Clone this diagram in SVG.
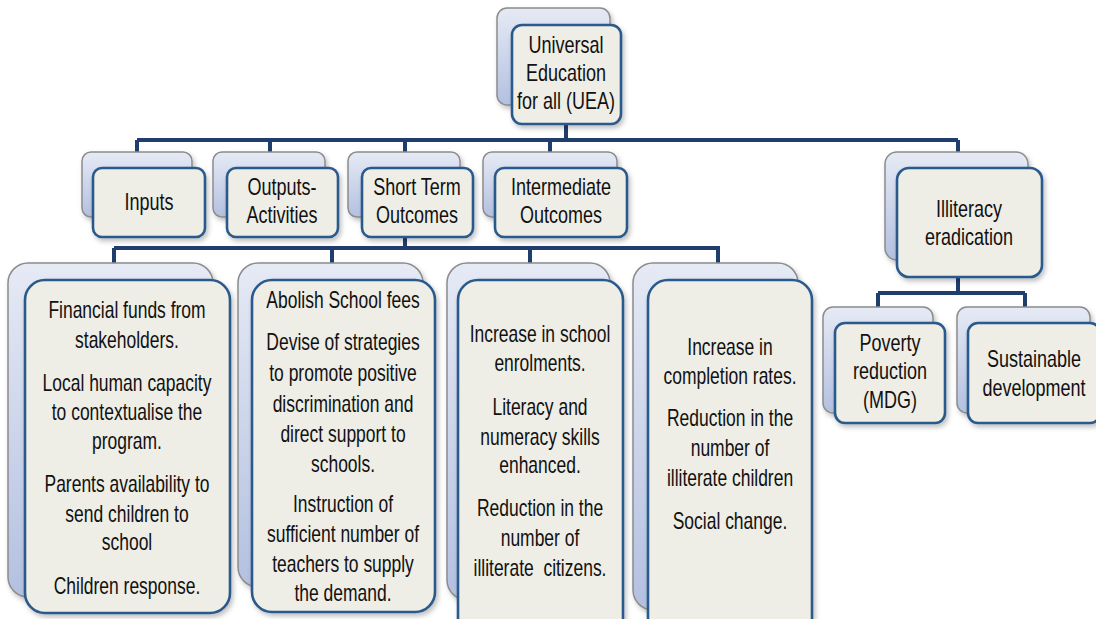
<svg xmlns="http://www.w3.org/2000/svg" width="1096" height="619" viewBox="0 0 1096 619">
<defs>
<linearGradient id="bg" x1="0" y1="0" x2="0" y2="1">
<stop offset="0" stop-color="#e6eaf5"/>
<stop offset="1" stop-color="#b3c0e0"/>
</linearGradient>
<filter id="sh" x="-10%" y="-10%" width="130%" height="130%">
<feDropShadow dx="2" dy="3" stdDeviation="2.5" flood-color="#000" flood-opacity="0.25"/>
</filter>
<style>
.back{fill:url(#bg);stroke:#8c8c8c;stroke-width:1.5;filter:url(#sh)}
.front{fill:#eeede6;stroke:#2a5a8c;stroke-width:2.6;filter:url(#sh)}
.con{fill:none;stroke:#1f3e6e;stroke-width:4}
text{font-family:"Liberation Sans",Arial,sans-serif;fill:#111;text-anchor:middle}
.h{font-size:24px}
.c{font-size:23px}
.pre{white-space:pre}
</style>
</defs>
<g id="connectors">
<path class="con" d="M566 124V140M137 140H958M137 140V152M270 140V152M405 140V152M550 140V152M958 140V152"/>
<path class="con" d="M405 237V248M114 248H720M114 248V263M332 248V263M530 248V263M718 248V263"/>
<path class="con" d="M958 277V293M878 293H1025M878 293V307M1025 293V307"/>
</g>
<g id="uea">
<rect class="back" x="497" y="8" width="113" height="97" rx="10"/>
<rect class="front" x="512" y="25" width="109" height="99" rx="10"/>
<text class="h" transform="translate(566 0) scale(0.75 1)"><tspan x="0" y="53">Universal</tspan><tspan x="0" y="81">Education</tspan><tspan x="0" y="109">for all (UEA)</tspan></text>
</g>
<g id="inputs">
<rect class="back" x="82" y="152" width="110" height="65" rx="9"/>
<rect class="front" x="93" y="168" width="112" height="69" rx="9"/>
<text class="h" transform="translate(149 0) scale(0.75 1)"><tspan x="0" y="210">Inputs</tspan></text>
</g>
<g id="outputs">
<rect class="back" x="213" y="152" width="112" height="65" rx="9"/>
<rect class="front" x="227" y="168" width="111" height="69" rx="9"/>
<text class="h" transform="translate(282 0) scale(0.75 1)"><tspan x="0" y="195">Outputs-</tspan><tspan x="0" y="223">Activities</tspan></text>
</g>
<g id="short-term">
<rect class="back" x="348" y="152" width="112" height="65" rx="9"/>
<rect class="front" x="362" y="168" width="111" height="69" rx="9"/>
<text class="h" transform="translate(417 0) scale(0.75 1)"><tspan x="0" y="195">Short Term</tspan><tspan x="0" y="223">Outcomes</tspan></text>
</g>
<g id="intermediate">
<rect class="back" x="483" y="152" width="134" height="65" rx="9"/>
<rect class="front" x="495" y="168" width="132" height="69" rx="9"/>
<text class="h" transform="translate(561 0) scale(0.75 1)"><tspan x="0" y="195">Intermediate</tspan><tspan x="0" y="223">Outcomes</tspan></text>
</g>
<g id="illiteracy">
<rect class="back" x="885" y="152" width="143" height="108" rx="12"/>
<rect class="front" x="897" y="168" width="145" height="109" rx="12"/>
<text class="h" transform="translate(969 0) scale(0.75 1)"><tspan x="0" y="217">Illiteracy</tspan><tspan x="0" y="245">eradication</tspan></text>
</g>
<g id="col-inputs">
<rect class="back" x="8" y="263" width="205" height="334" rx="20"/>
<rect class="front" x="25" y="280" width="205" height="333" rx="20"/>
<text class="c" transform="translate(127 0) scale(0.76 1)"><tspan x="0" y="318">Financial funds from</tspan><tspan x="0" y="348">stakeholders.</tspan><tspan x="0" y="391">Local human capacity</tspan><tspan x="0" y="420">to contextualise the</tspan><tspan x="0" y="449">program.</tspan><tspan x="0" y="492">Parents availability to</tspan><tspan x="0" y="522">send children to</tspan><tspan x="0" y="550">school</tspan><tspan x="0" y="594">Children response.</tspan></text>
</g>
<g id="col-outputs">
<rect class="back" x="238" y="263" width="185" height="324" rx="20"/>
<rect class="front" x="252" y="280" width="183" height="332" rx="20"/>
<text class="c" transform="translate(343 0) scale(0.76 1)"><tspan x="0" y="308">Abolish School fees</tspan><tspan x="0" y="350">Devise of strategies</tspan><tspan x="0" y="381">to promote positive</tspan><tspan x="0" y="412">discrimination and</tspan><tspan x="0" y="442">direct support to</tspan><tspan x="0" y="472">schools.</tspan><tspan x="0" y="512">Instruction of</tspan><tspan x="0" y="542">sufficient number of</tspan><tspan x="0" y="572">teachers to supply</tspan><tspan x="0" y="601">the demand.</tspan></text>
</g>
<g id="col-short">
<rect class="back" x="447" y="263" width="163" height="337" rx="20"/>
<rect class="front" x="458" y="280" width="165" height="360" rx="20"/>
<text class="c" transform="translate(540 0) scale(0.76 1)"><tspan x="0" y="342">Increase in school</tspan><tspan x="0" y="371">enrolments.</tspan><tspan x="0" y="415">Literacy and</tspan><tspan x="0" y="445">numeracy skills</tspan><tspan x="0" y="473">enhanced.</tspan><tspan x="0" y="516">Reduction in the</tspan><tspan x="0" y="546">number of</tspan><tspan class="pre" x="0" y="576">illiterate  citizens.</tspan></text>
</g>
<g id="col-intermediate">
<rect class="back" x="633" y="263" width="165" height="347" rx="20"/>
<rect class="front" x="648" y="280" width="164" height="360" rx="20"/>
<text class="c" transform="translate(730 0) scale(0.76 1)"><tspan x="0" y="355">Increase in</tspan><tspan x="0" y="384">completion rates.</tspan><tspan x="0" y="426">Reduction in the</tspan><tspan x="0" y="456">number of</tspan><tspan x="0" y="486">illiterate children</tspan><tspan x="0" y="529">Social change.</tspan></text>
</g>
<g id="poverty">
<rect class="back" x="823" y="307" width="110" height="106" rx="10"/>
<rect class="front" x="835" y="323" width="110" height="100" rx="10"/>
<text class="h" transform="translate(890 0) scale(0.75 1)"><tspan x="0" y="351">Poverty</tspan><tspan x="0" y="379">reduction</tspan><tspan x="0" y="408">(MDG)</tspan></text>
</g>
<g id="sustainable">
<rect class="back" x="957" y="307" width="133" height="106" rx="10"/>
<rect class="front" x="968" y="323" width="132" height="100" rx="10"/>
<text class="h" transform="translate(1034 0) scale(0.75 1)"><tspan x="0" y="367">Sustainable</tspan><tspan x="0" y="396">development</tspan></text>
</g>
</svg>
